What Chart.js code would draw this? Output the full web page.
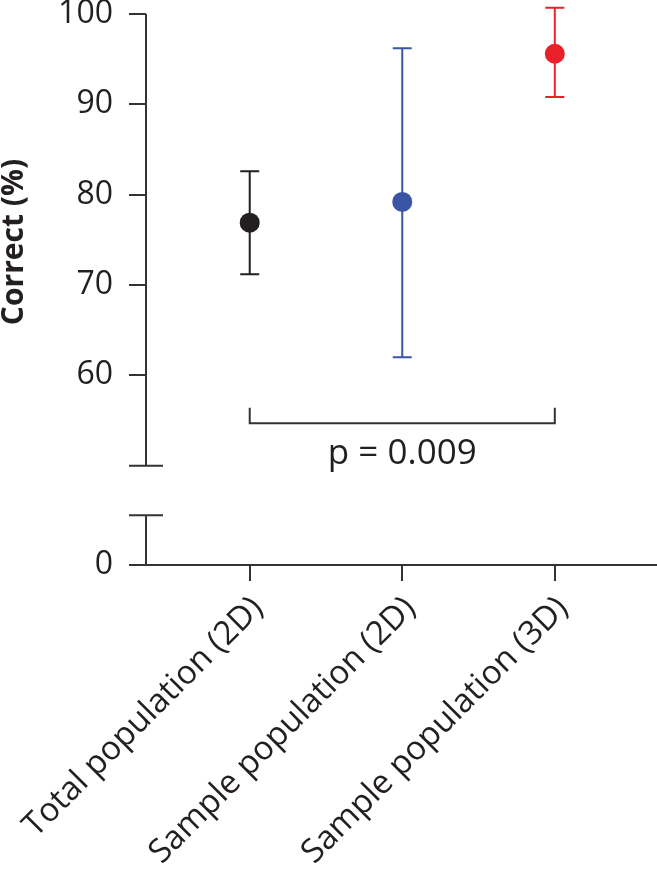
<!DOCTYPE html>
<html lang="en">
<head>
  <meta charset="UTF-8">
  <title>Correct (%) by population</title>
  <style>
    body {
      margin: 0;
      background: #ffffff;
    }
    canvas {
      display: block;
    }
  </style>
</head>
<body>
  <canvas id="errChart" width="657" height="870"></canvas>

  <script src="https://cdn.jsdelivr.net/npm/chart.js"></script>
  <script>
    // data
    const categories = ['Total population (2D)', 'Sample population (2D)', 'Sample population (3D)'];
    const means = [76.9, 79.2, 95.6];
    const errLow = [71.2, 62.0, 90.8];
    const errHigh = [82.6, 96.2, 100.7];
    const pointColors = ['#231f20', '#3a55a5', '#e8202a'];

    // axis: 60..100 then a break, then "0" at the bottom
    const yTicks = [60, 70, 80, 90, 100];
    const yZero = 39;          // position used for the "0" tick below the break
    const axisBreak = [50, 44.5];

    // significance bracket
    const bracketFrom = 0, bracketTo = 2;
    const bracketLevel = 54.7, bracketTip = 56.4, pLabelLevel = 51.3;
    const pLabel = 'p = 0.009';

    const axisColor = '#333333';
    const textColor = '#231f20';
    const fontFamily = '"Open Sans", "DejaVu Sans", sans-serif';

    const errorBars = {
      id: 'errorBars',
      beforeDatasetsDraw(chart) {
        const { ctx, scales: { x, y } } = chart;
        ctx.save();
        ctx.lineWidth = 2;
        errLow.forEach((lo, i) => {
          const px = x.getPixelForValue(i);
          const yl = y.getPixelForValue(lo);
          const yh = y.getPixelForValue(errHigh[i]);
          ctx.strokeStyle = pointColors[i];
          ctx.beginPath();
          ctx.moveTo(px, yl); ctx.lineTo(px, yh);
          ctx.moveTo(px - 9.5, yl); ctx.lineTo(px + 9.5, yl);
          ctx.moveTo(px - 9.5, yh); ctx.lineTo(px + 9.5, yh);
          ctx.stroke();
        });
        ctx.restore();
      },
      afterDraw(chart) {
        const { ctx, scales: { x, y } } = chart;
        ctx.save();
        ctx.strokeStyle = axisColor;
        ctx.lineWidth = 2;
        const ax = x.left;
        const b0 = y.getPixelForValue(axisBreak[0]);
        const b1 = y.getPixelForValue(axisBreak[1]);
        // broken y axis
        ctx.beginPath();
        ctx.moveTo(ax, y.getPixelForValue(100)); ctx.lineTo(ax, b0);
        ctx.moveTo(ax - 17, b0); ctx.lineTo(ax + 17, b0);
        ctx.moveTo(ax - 17, b1); ctx.lineTo(ax + 17, b1);
        ctx.moveTo(ax, b1); ctx.lineTo(ax, y.bottom);
        ctx.stroke();

        // bracket + p value
        const x0 = x.getPixelForValue(bracketFrom);
        const x1 = x.getPixelForValue(bracketTo);
        const yb = y.getPixelForValue(bracketLevel);
        const yt = y.getPixelForValue(bracketTip);
        ctx.beginPath();
        ctx.moveTo(x0, yt); ctx.lineTo(x0, yb); ctx.lineTo(x1, yb); ctx.lineTo(x1, yt);
        ctx.stroke();
        ctx.fillStyle = textColor;
        ctx.font = '35px ' + fontFamily;
        ctx.textAlign = 'center';
        ctx.textBaseline = 'middle';
        ctx.fillText(pLabel, (x0 + x1) / 2, y.getPixelForValue(pLabelLevel));

        // y axis title
        ctx.translate(14, 242);
        ctx.rotate(-Math.PI / 2);
        ctx.font = 'bold 30px ' + fontFamily;
        ctx.fillText('Correct (%)', 0, 0);
        ctx.restore();
      }
    };

    const ctx = document.getElementById('errChart').getContext('2d');
    new Chart(ctx, {
      type: 'scatter',
      data: {
        datasets: [{
          data: means.map((m, i) => ({ x: i, y: m })),
          pointBackgroundColor: pointColors,
          pointBorderWidth: 0,
          pointRadius: 10,
          clip: false
        }]
      },
      options: {
        responsive: false,
        animation: false,
        layout: { autoPadding: false, padding: { top: 14, left: 0, right: 0, bottom: 0 } },
        plugins: {
          legend: { display: false },
          tooltip: { enabled: false }
        },
        scales: {
          x: {
            type: 'linear',
            min: -0.68,
            max: 2.67,
            afterBuildTicks: s => { s.ticks = categories.map((_, i) => ({ value: i })); },
            afterFit: s => { s.height = 305; s.paddingLeft = 0; s.paddingRight = 0; },
            ticks: {
              autoSkip: false,
              minRotation: 45,
              maxRotation: 45,
              padding: 8,
              labelOffset: 8,
              color: textColor,
              font: { size: 33, family: fontFamily },
              callback: v => categories[v]
            },
            grid: { drawOnChartArea: false, tickLength: 16, lineWidth: 2, color: axisColor },
            border: { display: true, color: axisColor, width: 2 }
          },
          y: {
            min: yZero,
            max: 100,
            afterBuildTicks: s => { s.ticks = [yZero, ...yTicks].map(v => ({ value: v })); },
            afterFit: s => { s.width = 146; s.paddingTop = 0; s.paddingBottom = 0; },
            ticks: {
              padding: 16,
              color: textColor,
              font: { size: 32, family: fontFamily },
              callback: v => (v === yZero ? '0' : v)
            },
            grid: { drawOnChartArea: false, tickLength: 17, lineWidth: 2, color: axisColor },
            border: { display: false }
          }
        }
      },
      plugins: [errorBars]
    });
  </script>
</body>
</html>
